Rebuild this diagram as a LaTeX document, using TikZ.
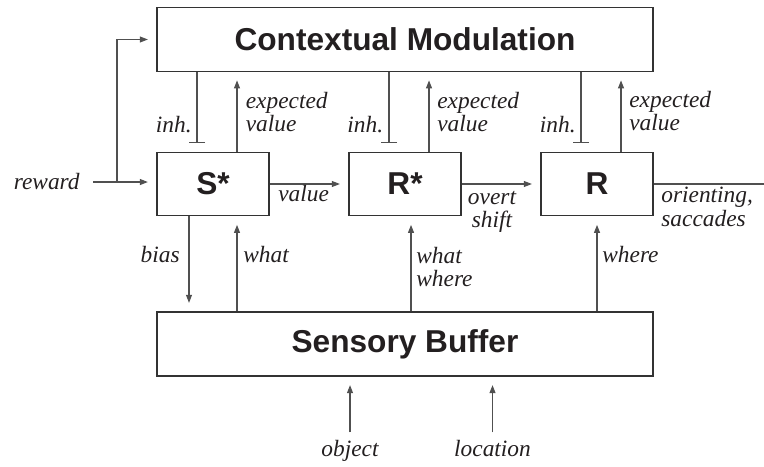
\documentclass[tikz,border=0pt]{standalone}
\usepackage{fontspec}
\setmainfont{Liberation Serif}
\setsansfont{Liberation Sans}
\usetikzlibrary{arrows.meta,calc}
\definecolor{Ink}{HTML}{231F20}
\definecolor{Frame}{HTML}{333333}
\definecolor{Wire}{HTML}{505050}

\begin{document}
\begin{tikzpicture}[
  box/.style={draw=Frame, line width=0.75pt, inner sep=0pt, minimum height=1.27cm, text=Ink, font=\sffamily\bfseries\fontsize{18pt}{20pt}\selectfont},
  lbl/.style={inner sep=0pt, text=Ink, font=\itshape\fontsize{13.3pt}{13.2pt}\selectfont},
  arr/.style={Wire, line width=0.6pt, -{Triangle[length=1.6mm,width=1.2mm]}, shorten >=0.17cm},
  inh/.style={Wire, line width=0.6pt, -{Bar[width=3.2mm]}, shorten >=0.17cm}]
  \useasboundingbox (0,0) rectangle (15.28,9.32);
  \node[box, minimum width=9.92cm] (CM) at (8.10,8.53) {Contextual Modulation};
  \node[box, minimum width=2.24cm] (S) at (4.26,5.64) {S*};
  \node[box, minimum width=2.24cm] (Rs) at (8.10,5.64) {R*};
  \node[box, minimum width=2.24cm] (R) at (11.94,5.64) {R};
  \node[box, minimum width=9.92cm, minimum height=1.28cm] (SB) at (8.10,2.44) {Sensory Buffer};
  \node[lbl, anchor=base east] (reward) at (1.60,5.52) {reward};
  \coordinate (split) at ($(reward.east)+(0.74,0)$);
  \coordinate (out) at (15.28,5.64);
  \draw[arr, shorten <=0.26cm] (reward.east) -- (reward.east -| S.west);
  \draw[arr] (split) |- (CM.west);
  \draw[inh] ([xshift=-0.32cm]S.north |- CM.south) -- ([xshift=-0.32cm]S.north);
  \draw[arr] ([xshift=0.48cm]S.north) -- ([xshift=0.48cm]S.north |- CM.south);
  \draw[inh] ([xshift=-0.32cm]Rs.north |- CM.south) -- ([xshift=-0.32cm]Rs.north);
  \draw[arr] ([xshift=0.48cm]Rs.north) -- ([xshift=0.48cm]Rs.north |- CM.south);
  \draw[inh] ([xshift=-0.32cm]R.north |- CM.south) -- ([xshift=-0.32cm]R.north);
  \draw[arr] ([xshift=0.48cm]R.north) -- ([xshift=0.48cm]R.north |- CM.south);
  \node[lbl, anchor=base east] (inhS) at (3.84,6.66) {inh.};
  \node[lbl, anchor=base east] (inhRs) at (7.67,6.66) {inh.};
  \node[lbl, anchor=base east] (inhR) at (11.52,6.66) {inh.};
  \node[lbl, anchor=north west, align=left] (expS) at (4.91,7.49) {expected\\value};
  \node[lbl, anchor=north west, align=left] (expRs) at (8.74,7.49) {expected\\value};
  \node[lbl, anchor=north west, align=left] (expR) at (12.58,7.51) {expected\\value};
  \draw[arr] (S.east) -- (Rs.west);
  \draw[arr] (Rs.east) -- (R.west);
  \draw[Wire, line width=0.6pt] (R.east) -- (out);
  \node[lbl, anchor=base west] (value) at (5.56,5.29) {value};
  \node[lbl, anchor=north, align=center] (overt) at (9.84,5.50) {overt\\shift};
  \node[lbl, anchor=north west, align=left] (orient) at (13.22,5.58) {orienting,\\saccades};
  \draw[arr] ([xshift=-0.48cm]S.south) -- ([xshift=-0.48cm]S.south |- SB.north);
  \draw[arr] ([xshift=0.48cm]S.south |- SB.north) -- ([xshift=0.48cm]S.south);
  \draw[arr] ([xshift=0.12cm]Rs.south |- SB.north) -- ([xshift=0.12cm]Rs.south);
  \draw[arr] (R.south |- SB.north) -- (R.south);
  \node[lbl, anchor=base east] (bias) at (3.60,4.08) {bias};
  \node[lbl, anchor=base west] (what) at (4.86,4.08) {what};
  \node[lbl, anchor=north west, align=left] (whatwhere) at (8.32,4.39) {what\\where};
  \node[lbl, anchor=base west] (where) at (12.04,4.08) {where};
  \node[lbl, anchor=base] (object) at (7.00,0.20) {object};
  \node[lbl, anchor=base] (location) at (9.85,0.20) {location};
  \draw[arr, shorten <=0.14cm] (object.north) -- (object.north |- SB.south);
  \draw[arr, shorten <=0.14cm] (location.north) -- (location.north |- SB.south);
\end{tikzpicture}
\end{document}
